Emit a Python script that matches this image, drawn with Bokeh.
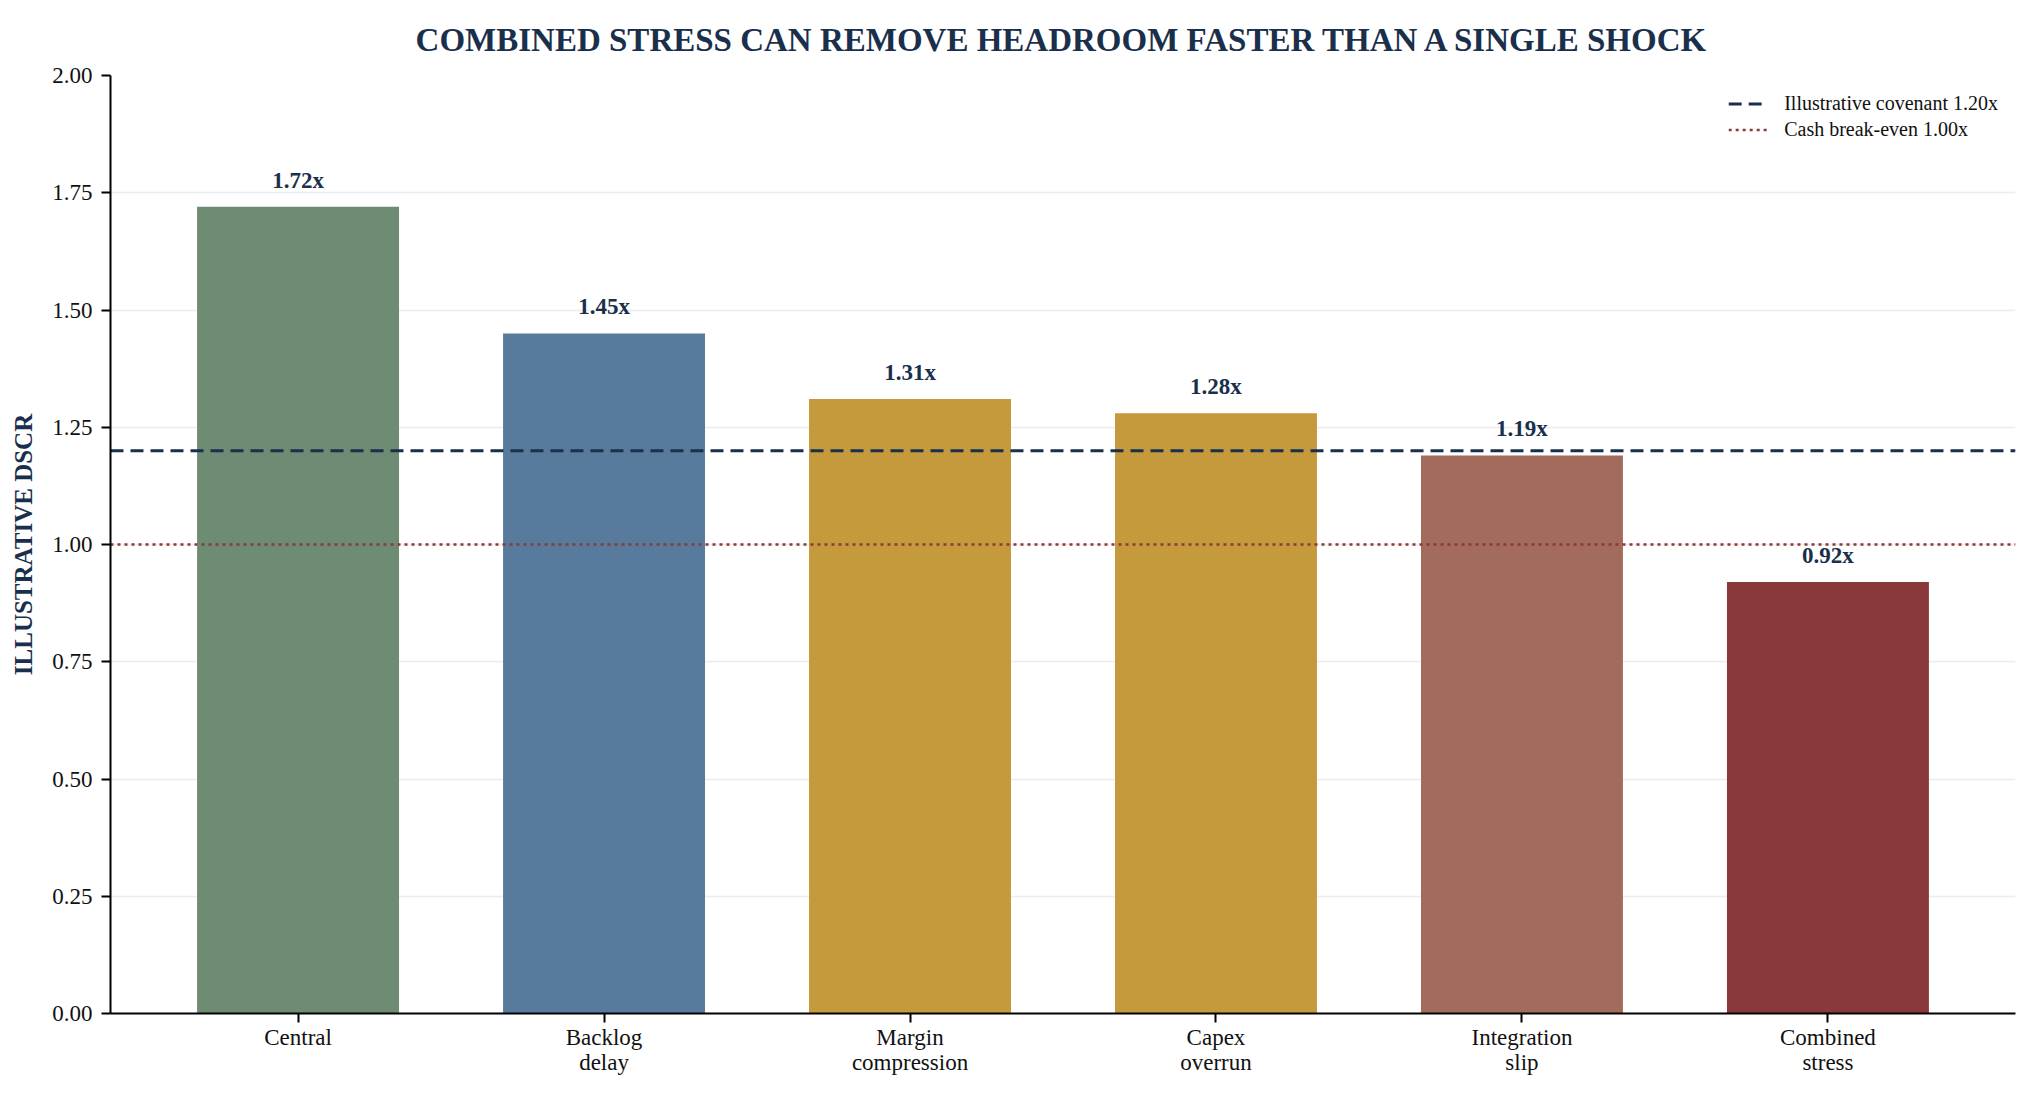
from bokeh.plotting import figure
from bokeh.models import (ColumnDataSource, Range1d, FixedTicker, NumeralTickFormatter,
                          Legend, LegendItem, LabelSet)
from bokeh.embed import file_html
from bokeh.resources import INLINE

# ---- data ----
categories = ["Central", "Backlog\ndelay", "Margin\ncompression", "Capex\noverrun",
              "Integration\nslip", "Combined\nstress"]
dscr = [1.72, 1.45, 1.31, 1.28, 1.19, 0.92]
bar_colors = ["#6e8b73", "#587a9c", "#c59a3d", "#c59a3d", "#a36b5b", "#8a393b"]
value_labels = [f"{v:.2f}x" for v in dscr]
covenant = 1.20
breakeven = 1.00
y_ticks = [0.0, 0.25, 0.5, 0.75, 1.0, 1.25, 1.5, 1.75, 2.0]
title_text = "COMBINED STRESS CAN REMOVE HEADROOM FASTER THAN A SINGLE SHOCK"
y_label = "ILLUSTRATIVE DSCR"
covenant_label = "Illustrative covenant 1.20x"
breakeven_label = "Cash break-even 1.00x"

NAVY = "#1a2f4b"
MAROON = "#8b3a3a"
FONT = "Liberation Serif"

n = len(categories)
bar_w = 0.66
pad = 0.05 * (n - 1 + bar_w)
xs = list(range(n))
x0, x1 = -bar_w / 2 - pad, n - 1 + bar_w / 2 + pad

p = figure(width=2018, height=1082, output_backend="svg", toolbar_location=None,
           x_range=Range1d(x0, x1), y_range=Range1d(0, 2.0),
           min_border_left=110, min_border_right=3, min_border_top=75, min_border_bottom=69)

p.title.text = title_text
p.title.align = "center"
p.title.vertical_align = "top"
p.title.text_font = FONT
p.title.text_font_size = "33px"
p.title.text_font_style = "bold"
p.title.text_color = NAVY
p.title.text_line_height = 1.0
p.title.standoff = 32

p.outline_line_color = None
p.background_fill_color = "white"
p.border_fill_color = "white"

src = ColumnDataSource(dict(x=xs, top=dscr, color=bar_colors, label=value_labels))
p.vbar(x="x", top="top", width=bar_w, bottom=0, fill_color="color", line_color=None, source=src)

# reference lines (full width of the x range)
r_cov = p.line(x=[x0, x1], y=[covenant, covenant], line_color=NAVY, line_width=3,
               line_dash="13 7")
r_brk = p.line(x=[x0, x1], y=[breakeven, breakeven], line_color=MAROON, line_width=2.4,
               line_dash="3 4")

legend = Legend(items=[LegendItem(label=covenant_label, renderers=[r_cov]),
                       LegendItem(label=breakeven_label, renderers=[r_brk])],
                location="top_right", label_text_font=FONT, label_text_font_size="20px",
                label_text_color="#111111", glyph_width=40, glyph_height=23, label_height=23,
                label_standoff=16, spacing=3, margin=17, padding=10,
                background_fill_alpha=0, border_line_color=None)
p.add_layout(legend)

# value labels
labels = LabelSet(x="x", y="top", text="label", source=src, y_offset=19,
                  text_align="center", text_baseline="alphabetic",
                  text_font=FONT, text_font_size="23px", text_font_style="bold",
                  text_color=NAVY)
p.add_layout(labels)

# axes
p.xaxis.ticker = FixedTicker(ticks=xs)
p.xaxis.major_label_overrides = {i: c for i, c in zip(xs, categories)}
p.yaxis.ticker = FixedTicker(ticks=y_ticks)
p.yaxis.formatter = NumeralTickFormatter(format="0.00")

for ax in (p.xaxis, p.yaxis):
    ax.axis_line_color = "black"
    ax.axis_line_width = 2
    ax.major_tick_line_color = "black"
    ax.major_tick_line_width = 2
    ax.major_tick_out = 9
    ax.major_tick_in = 0
    ax.minor_tick_line_color = None
    ax.major_label_text_font = FONT
    ax.major_label_text_font_size = "23px"
    ax.major_label_text_color = "#111111"

p.xaxis.major_label_standoff = 2
p.xaxis.major_label_text_line_height = 1.02
p.yaxis.major_label_standoff = 9

p.yaxis.axis_label = y_label
p.yaxis.axis_label_text_font = FONT
p.yaxis.axis_label_text_font_size = "25px"
p.yaxis.axis_label_text_font_style = "bold"
p.yaxis.axis_label_text_color = NAVY
p.yaxis.axis_label_standoff = 12

p.xgrid.grid_line_color = None
p.ygrid.grid_line_color = "#ececec"
p.ygrid.grid_line_width = 1.5
p.ygrid.ticker = FixedTicker(ticks=y_ticks)

open("out.html", "w").write(file_html(p, INLINE))
